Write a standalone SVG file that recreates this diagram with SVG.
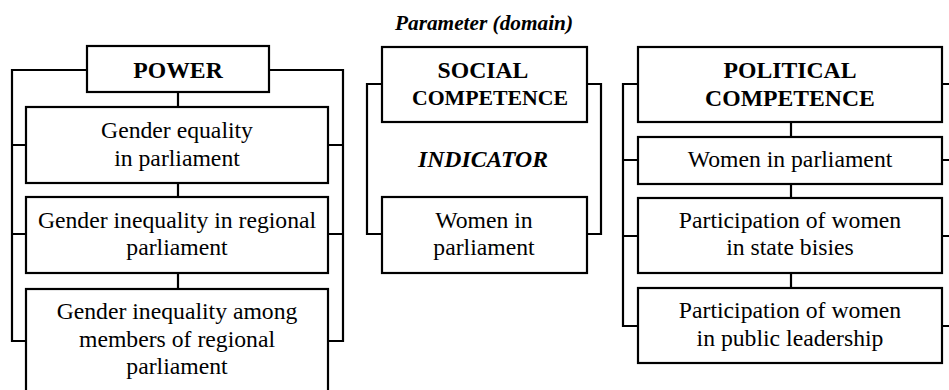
<svg xmlns="http://www.w3.org/2000/svg" width="949" height="390" viewBox="0 0 949 390">
<style>
.box{fill:#fff;stroke:#000;stroke-width:2.2}
.con{fill:none;stroke:#000;stroke-width:2.2}
</style>
<rect width="949" height="390" fill="#fff"/>
<g id="connectors">
<path class="con" d="M87,70 H12 V341 H26 M12,145 H26 M12,234 H26"/>
<path class="con" d="M269,70 H343 V341 H328 M343,145 H328 M343,234 H328"/>
<path class="con" d="M178,92 V107 M178,183 V197 M178,273 V289"/>
<path class="con" d="M382,84 H367 V234 H382"/>
<path class="con" d="M587,84 H601 V234 H587"/>
<path class="con" d="M638,84 H623 V326 H638 M623,160 H638 M623,236 H638"/>
<path class="con" d="M942,84 H962 V326 H942 M962,160 H942 M962,236 H942"/>
<path class="con" d="M791,122 V137 M791,184 V198 M791,273 V288"/>
</g>
<g id="title"><text x="484" y="30" font-family="Liberation Serif, serif" font-size="21.3" font-weight="bold" font-style="italic" text-anchor="middle">Parameter (domain)</text></g>
<g id="indicator"><text x="483" y="167" font-family="Liberation Serif, serif" font-size="23.7" font-weight="bold" font-style="italic" text-anchor="middle">INDICATOR</text></g>
<g id="power"><rect class="box" x="87" y="46" width="182" height="46"/><text x="178" y="78" font-family="Liberation Serif, serif" font-size="23.7" font-weight="bold" text-anchor="middle">POWER</text></g>
<g id="gender-equality"><rect class="box" x="26" y="107" width="302" height="76"/><text x="177" y="138" font-family="Liberation Serif, serif" font-size="23.7" text-anchor="middle">Gender equality</text><text x="177" y="166" font-family="Liberation Serif, serif" font-size="23.7" text-anchor="middle">in parliament</text></g>
<g id="gender-inequality-regional"><rect class="box" x="26" y="197" width="302" height="76"/><text x="177" y="228" font-family="Liberation Serif, serif" font-size="23.7" text-anchor="middle">Gender inequality in regional</text><text x="177" y="255" font-family="Liberation Serif, serif" font-size="23.7" text-anchor="middle">parliament</text></g>
<g id="gender-inequality-members"><rect class="box" x="26" y="289" width="302" height="120"/><text x="177" y="319" font-family="Liberation Serif, serif" font-size="23.7" text-anchor="middle">Gender inequality among</text><text x="177" y="347" font-family="Liberation Serif, serif" font-size="23.7" text-anchor="middle">members of regional</text><text x="177" y="374" font-family="Liberation Serif, serif" font-size="23.7" text-anchor="middle">parliament</text></g>
<g id="social"><rect class="box" x="382" y="47" width="205" height="75"/><text x="483" y="78" font-family="Liberation Serif, serif" font-size="23.7" font-weight="bold" text-anchor="middle">SOCIAL</text><text x="490" y="105" font-family="Liberation Serif, serif" font-size="21.8" font-weight="bold" text-anchor="middle">COMPETENCE</text></g>
<g id="social-women"><rect class="box" x="382" y="197" width="205" height="76"/><text x="484" y="228" font-family="Liberation Serif, serif" font-size="23.7" text-anchor="middle">Women in</text><text x="484" y="255" font-family="Liberation Serif, serif" font-size="23.7" text-anchor="middle">parliament</text></g>
<g id="political"><rect class="box" x="638" y="47" width="304" height="75"/><text x="790" y="78" font-family="Liberation Serif, serif" font-size="23.7" font-weight="bold" text-anchor="middle">POLITICAL</text><text x="790" y="106" font-family="Liberation Serif, serif" font-size="23.7" font-weight="bold" text-anchor="middle">COMPETENCE</text></g>
<g id="political-women"><rect class="box" x="638" y="137" width="304" height="47"/><text x="790" y="167" font-family="Liberation Serif, serif" font-size="23.7" text-anchor="middle">Women in parliament</text></g>
<g id="state-bodies"><rect class="box" x="638" y="198" width="304" height="75"/><text x="790" y="228" font-family="Liberation Serif, serif" font-size="23.7" text-anchor="middle">Participation of women</text><text x="790" y="255" font-family="Liberation Serif, serif" font-size="23.7" text-anchor="middle">in state bisies</text></g>
<g id="public-leadership"><rect class="box" x="638" y="288" width="304" height="75"/><text x="790" y="318" font-family="Liberation Serif, serif" font-size="23.7" text-anchor="middle">Participation of women</text><text x="790" y="346" font-family="Liberation Serif, serif" font-size="23.7" text-anchor="middle">in public leadership</text></g>
</svg>
